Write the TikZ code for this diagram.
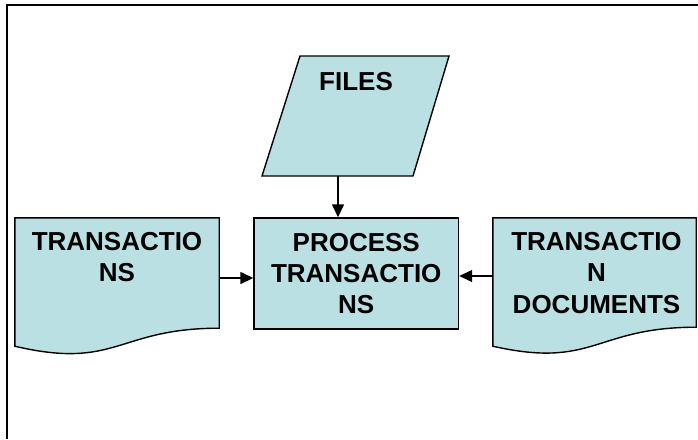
\documentclass[tikz,border=0pt]{standalone}
\usepackage{fontspec}
\setmainfont{Liberation Sans}
\usetikzlibrary{arrows.meta,calc}

\definecolor{shapefillcol}{RGB}{187,224,227}

\tikzset{
  shapeline/.style={draw=black, line width=1.4pt, fill=shapefillcol, line join=miter},
  body/.style={draw=none, inner sep=0pt, minimum width=#1},
  boxlabel/.style={inner sep=0pt, align=center,
    font=\fontsize{26}{31.5}\selectfont\bfseries},
  procbox/.style={shapeline, inner sep=0pt, align=center,
    minimum width=204.5pt, minimum height=111pt,
    font=\fontsize{26}{31}\selectfont\bfseries},
  flow/.style={draw=black, line width=1.4pt,
    -{Triangle[length=13pt,width=12pt]}},
}

\begin{document}
\begin{tikzpicture}[x=1pt,y=-1pt]
\useasboundingbox (0,0) rectangle (698,439);

% page frame (top and left edges only)
\draw[line width=2pt] (6.5,439) -- (6.5,5) -- (698,5);

% input/output parallelogram
\path[shapeline] (300,56) -- (449,56) -- (413,176) -- (262,176) -- cycle;
\node[boxlabel, anchor=north] (files) at (356,72) {FILES};
\coordinate (filesout) at (338,176);

% process box
\node[procbox] (proc) at (356.25,273.5) {PROCESS\\TRANSACTIO\\NS};

% left document
\node[body=204pt, minimum height=110pt] (txl) at (117,273) {};
\path[shapeline] (txl.north west) -- (txl.north east) -- (txl.south east)
  .. controls (txl.south) and ($(txl.south)+(0,42)$) .. ($(txl.south west)+(0,18)$)
  -- cycle;
\node[boxlabel, anchor=north] (txllabel) at ($(txl.north)+(0,14)$) {TRANSACTIO\\NS};

% right document
\node[body=203pt, minimum height=109pt] (txr) at (594.5,272.5) {};
\path[shapeline] (txr.north west) -- (txr.north east) -- (txr.south east)
  .. controls (txr.south) and ($(txr.south)+(0,42)$) .. ($(txr.south west)+(0,19)$)
  -- cycle;
\node[boxlabel, anchor=north] (txrlabel) at ($(txr.north)+(2,14)$) {TRANSACTIO\\N\\DOCUMENTS};

% connectors
\draw[flow] (filesout) -- (filesout |- proc.north);
\coordinate (lout) at ([yshift=-5pt]txl.east);
\draw[flow] (lout) -- (lout -| proc.west);
\coordinate (rout) at ([yshift=-3.5pt]txr.west);
\draw[flow] (rout) -- (rout -| proc.east);
\end{tikzpicture}
\end{document}
